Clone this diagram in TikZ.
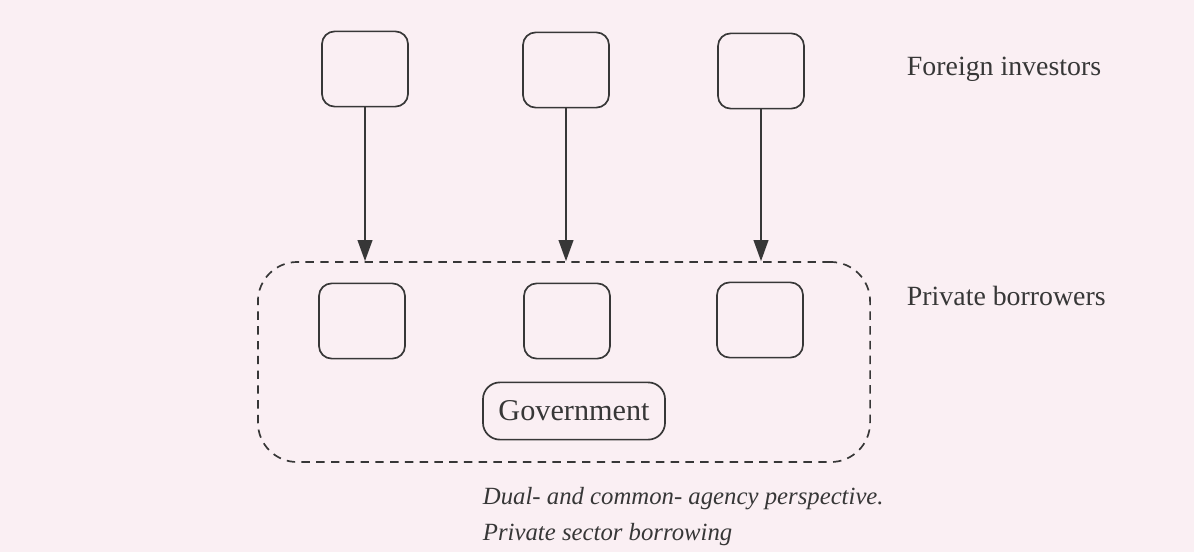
\documentclass[tikz,border=0pt]{standalone}
\usepackage{fontspec}
\setmainfont{Liberation Serif}
\usetikzlibrary{arrows.meta}
\definecolor{paper}{RGB}{250,239,243}
\definecolor{ink}{RGB}{55,55,55}

\begin{document}
\begin{tikzpicture}[x=0.025cm,y=-0.025cm,
  agent/.style={draw=ink, line width=1.2pt, rounded corners=9pt, minimum width=2.15cm, minimum height=1.88cm},
  group/.style={draw=ink, line width=1.2pt, dash pattern=on 6pt off 4.5pt, rounded corners=28pt, minimum width=15.3cm, minimum height=5cm},
  tag/.style={anchor=west, text=ink, font=\fontsize{19.8}{23}\selectfont},
  flow/.style={draw=ink, line width=1.2pt, -{Triangle[length=15pt,width=10.5pt]}}]
\fill[paper] (0,0) rectangle (1194,552);

% foreign investors
\node[agent] (f1) at (365,69) {};
\node[agent] (f2) at (566,70) {};
\node[agent] (f3) at (761,71) {};
\node[tag] (flab) at (902,69) {Foreign investors};

% private borrowers and government
\node[group] (pool) at (564,362) {};
\node[agent] (p1) at (362,321) {};
\node[agent] (p2) at (567,321) {};
\node[agent] (p3) at (760,320) {};
\node[tag] (plab) at (902,296) {Private borrowers};
\node[draw=ink, line width=1.2pt, rounded corners=12pt, minimum width=4.55cm, minimum height=1.43cm, text=ink, font=\fontsize{21.5}{25}\selectfont] (gov) at (574,411) {Government};

\draw[flow] (f1) -- (f1 |- pool.north);
\draw[flow] (f2) -- (f2 |- pool.north);
\draw[flow] (f3) -- (f3 |- pool.north);

\node[anchor=north west, align=left, text=ink, font=\fontsize{17.6}{25.5}\selectfont\itshape] (cap) at (478,482) {Dual- and common- agency perspective.\\Private sector borrowing};
\end{tikzpicture}
\end{document}
